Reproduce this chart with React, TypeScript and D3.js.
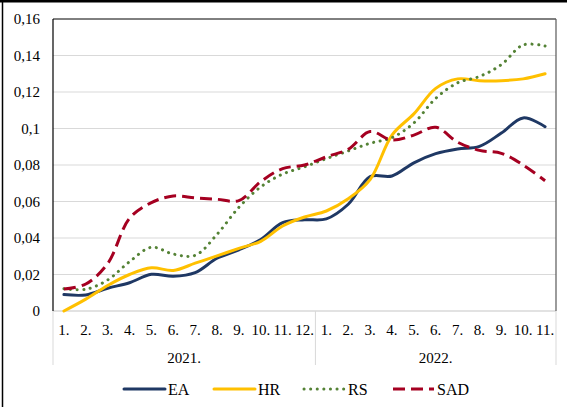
import React from "react";
import * as d3 from "d3";

const months = ["1.", "2.", "3.", "4.", "5.", "6.", "7.", "8.", "9.", "10.", "11.", "12.", "1.", "2.", "3.", "4.", "5.", "6.", "7.", "8.", "9.", "10.", "11."];
const years = ["2021.", "2022."];
const yearCounts = [12, 11];
const yTicks = [0, 0.02, 0.04, 0.06, 0.08, 0.1, 0.12, 0.14, 0.16];

const EA = [0.009, 0.0088, 0.0125, 0.0155, 0.0201, 0.0190, 0.0210, 0.0289, 0.0335, 0.0392, 0.0484, 0.0500, 0.0505, 0.0585, 0.0736, 0.0740, 0.0812, 0.0862, 0.0888, 0.0902, 0.0975, 0.1058, 0.1010];
const HR = [0.0, 0.0065, 0.0140, 0.0200, 0.0237, 0.0222, 0.0262, 0.0302, 0.0343, 0.0382, 0.0466, 0.0515, 0.0548, 0.0615, 0.0720, 0.0964, 0.1080, 0.1220, 0.1272, 0.1262, 0.1262, 0.1272, 0.1300];
const RS = [0.0122, 0.0119, 0.0170, 0.0270, 0.0349, 0.0312, 0.0305, 0.0420, 0.0568, 0.0680, 0.0750, 0.0790, 0.0835, 0.0877, 0.0919, 0.0950, 0.1030, 0.1165, 0.1250, 0.1285, 0.1350, 0.1458, 0.1452];
const SAD = [0.0120, 0.0148, 0.0260, 0.0508, 0.0594, 0.0630, 0.0620, 0.0612, 0.0605, 0.0709, 0.0780, 0.0800, 0.0845, 0.0886, 0.0983, 0.0937, 0.0964, 0.1007, 0.0925, 0.0880, 0.0864, 0.0800, 0.0714];

const seriesNames = ["EA", "HR", "RS", "SAD"];
const seriesData = [EA, HR, RS, SAD];
const colors = ["#1F3864", "#FFC000", "#548235", "#A50021"];
const dashes = ["", "", "0.1 6.5", "12 6"];
const caps = ["round", "round", "round", "butt"];

const W = 567, H = 407;
const L = 53, R = 556, T = 19, B = 311;
const FONT = "'Times New Roman', 'Liberation Serif', 'DejaVu Serif', 'Noto Serif', serif";

export default function App() {
  const x = d3.scaleBand<number>().domain(d3.range(months.length)).range([L, R]).padding(0);
  const y = d3.scaleLinear().domain([0, 0.16]).range([B, T]);
  const cx = (i: number) => (x(i) as number) + x.bandwidth() / 2;
  const line = d3.line<number>().x((_, i) => cx(i)).y((v) => y(v)).curve(d3.curveCatmullRom.alpha(0.5));

  const bounds: number[] = [0];
  yearCounts.forEach((c, i) => bounds.push(bounds[i] + c));
  const bx = (k: number) => (k < months.length ? (x(k) as number) : R);

  const legendX = [124, 214, 304, 393];
  const legendY = 389;
  const txt = { fontFamily: FONT };

  return (
    <svg width={W} height={H} style={{ position: "absolute", left: 0, top: 0, background: "#fff", fontFamily: FONT }}>
      <rect x={0} y={0} width={W} height={H} fill="#fff" />
      <line x1={0} y1={1.2} x2={W} y2={1.2} stroke="#000" strokeWidth={2.5} />
      <line x1={2.5} y1={0} x2={2.5} y2={H} stroke="#000" strokeWidth={1.5} />

      {yTicks.slice(1, -1).map((t) => (
        <line key={t} x1={L} x2={R} y1={y(t)} y2={y(t)} stroke="#D9D9D9" strokeWidth={1} />
      ))}

      {bounds.map((k) => (
        <line key={"b" + k} x1={bx(k)} x2={bx(k)} y1={B} y2={365} stroke="#D9D9D9" strokeWidth={1} />
      ))}

      <line x1={L} x2={R} y1={B} y2={B} stroke="#D9D9D9" strokeWidth={1.5} />

      <line x1={L} x2={R} y1={T} y2={T} stroke="#000" strokeWidth={1} />
      <line x1={R} x2={R} y1={T} y2={B} stroke="#595959" strokeWidth={1.2} />
      <line x1={L} x2={L} y1={T} y2={B} stroke="#000" strokeWidth={1.2} />

      {yTicks.map((t) => (
        <text key={"yt" + t} style={txt} x={40} y={y(t)} textAnchor="end" dominantBaseline="central" fontSize={15} fill="#000">
          {String(t).replace(".", ",")}
        </text>
      ))}

      {months.map((m, i) => (
        <text key={"m" + i} style={txt} x={cx(i)} y={330} textAnchor="middle" dominantBaseline="central" fontSize={15} fill="#000">
          {m}
        </text>
      ))}

      {years.map((yr, j) => (
        <text key={yr} style={txt} x={(bx(bounds[j]) + bx(bounds[j + 1])) / 2} y={358} textAnchor="middle" dominantBaseline="central" fontSize={15} fill="#000">
          {yr}
        </text>
      ))}

      {seriesData.map((d, s) => (
        <path key={seriesNames[s]} d={line(d) || ""} fill="none" stroke={colors[s]} strokeWidth={3}
          strokeDasharray={dashes[s] || undefined} strokeLinecap={caps[s] as any} strokeLinejoin="round" />
      ))}

      {seriesNames.map((n, s) => (
        <g key={"lg" + n}>
          <line x1={legendX[s]} x2={legendX[s] + 41} y1={legendY} y2={legendY} stroke={colors[s]} strokeWidth={3}
            strokeDasharray={dashes[s] || undefined} strokeLinecap={caps[s] as any} />
          <text style={txt} x={legendX[s] + 44} y={legendY} dominantBaseline="central" fontSize={16} fill="#000">{n}</text>
        </g>
      ))}
    </svg>
  );
}
